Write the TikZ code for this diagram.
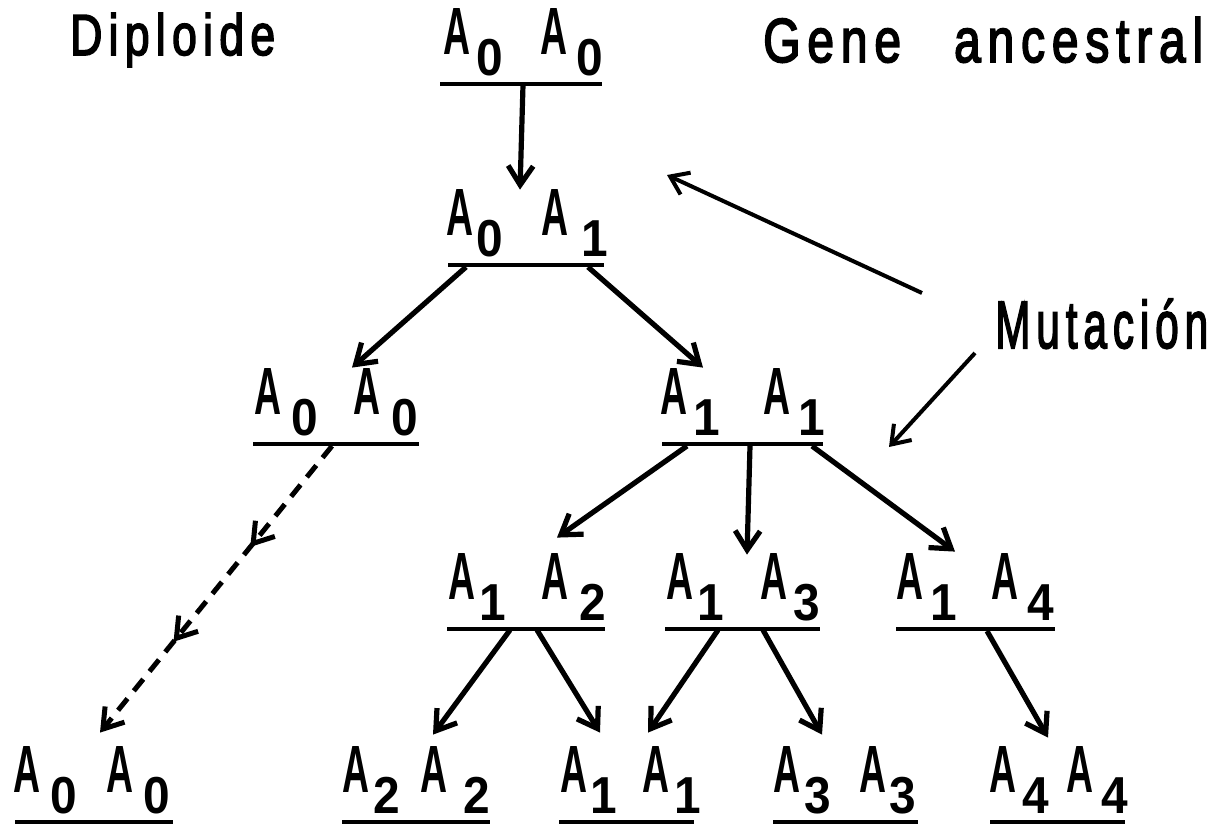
\documentclass[tikz,border=0pt]{standalone}
\usepackage{fontspec}
\setmainfont{Liberation Sans}
\newfontfamily\lett{Liberation Sans}
\newfontfamily\lettsp{Liberation Sans}[FakeBold=3,LetterSpace=14]
\usepackage{graphicx}
\usetikzlibrary{arrows.meta,decorations.markings}

% one capital A of the lettering, narrowed (its box height is smashed)
\newcommand\Ag{\smash{\resizebox{27pt}{46pt}{A}}}
% one index digit, slightly narrowed
\newcommand\Dg[1]{\scalebox{0.92}[1]{#1}}
% genotype label: #1 bar length, #2..#5 centres of A, digit, A, digit; #6,#7 the digits
\newcommand\gen[7]{\makebox[#1pt][l]{%
  \rlap{\hspace*{#2pt}\makebox[0pt]{\Ag}}%
  \rlap{\hspace*{#3pt}\makebox[0pt]{\raisebox{-21pt}{\Dg{#6}}}}%
  \rlap{\hspace*{#4pt}\makebox[0pt]{\Ag}}%
  \rlap{\hspace*{#5pt}\makebox[0pt]{\raisebox{-21pt}{\Dg{#7}}}}%
  \rule[-29pt]{0pt}{68pt}}}

\tikzset{
  geno/.style={inner sep=0pt, anchor=south west, font=\lett\bfseries\fontsize{52}{60}\selectfont},
  title/.style={inner sep=0pt, anchor=base west, font=\lettsp\fontsize{52}{60}\selectfont},
  bar/.style={line width=4.2pt},
  tree/.style={line width=5.2pt, -{Straight Barb[length=19pt,width=25pt]}},
  mutarrow/.style={line width=4pt, -{Straight Barb[length=17pt,width=24pt]}},
  dasharrow/.style={line width=5pt, dash pattern=on 15pt off 10pt,
    -{Straight Barb[length=19pt,width=25pt]},
    decoration={markings,
      mark=at position 0.352 with {\arrow{Straight Barb[length=19pt,width=25pt]}},
      mark=at position 0.683 with {\arrow{Straight Barb[length=19pt,width=25pt]}}},
    postaction={decorate}}
}

\begin{document}
\begin{tikzpicture}[x=1pt,y=-1pt]
\useasboundingbox (0,0) rectangle (1219,825);

% headings
\node[title] (dip) at (70,55) {\resizebox{205pt}{42pt}{Diploide}};
\node[title] (gene) at (763,62) {\resizebox{440pt}{45pt}{Gene\hspace{1.1em}ancestral}};
\node[title] (mut) at (995,348) {\resizebox{213pt}{46pt}{\smash{Mutación}\vphantom{M}}};

% genotypes
\node[geno] (top) at (440,84)  {\gen{162}{16.5}{50}{114}{149.5}{0}{0}};
\node[geno] (r2)  at (448,265) {\gen{156}{11.5}{42}{107}{146.5}{0}{1}};
\node[geno] (r3l) at (253,444) {\gen{166}{14.5}{51.5}{113.5}{151.5}{0}{0}};
\node[geno] (r3r) at (662,444) {\gen{161}{11.5}{44.5}{114.5}{149.5}{1}{1}};
\node[geno] (r4a) at (447,629) {\gen{158}{14.5}{45.5}{108}{145.5}{1}{2}};
\node[geno] (r4b) at (665,629) {\gen{155}{15}{45.5}{108.5}{141.5}{1}{3}};
\node[geno] (r4c) at (896,629) {\gen{159}{13.5}{47.5}{109}{144.5}{1}{4}};
\node[geno] (r5a) at (15,822)  {\gen{158}{11.5}{48.5}{105}{141.5}{0}{0}};
\node[geno] (r5b) at (342,822) {\gen{148}{14}{44.5}{91.5}{134.5}{2}{2}};
\node[geno] (r5c) at (559,822) {\gen{135}{14.5}{45}{96.5}{128.5}{1}{1}};
\node[geno] (r5d) at (773,822) {\gen{145}{13.5}{45}{99.5}{129.5}{3}{3}};
\node[geno] (r5e) at (990,822) {\gen{135}{12.5}{45.5}{90}{124.5}{4}{4}};

% bars under the genotypes
\foreach \n in {top,r2,r3l,r3r,r4a,r4b,r4c,r5a,r5b,r5c,r5d,r5e}
  \draw[bar] (\n.south west) -- (\n.south east);

% descent
\draw[tree] ([xshift=83pt,yshift=-1pt]top.south west) -- ([xshift=72pt,yshift=7pt]r2.north west);
\draw[tree] ([xshift=18pt,yshift=-2pt]r2.south west) -- ([xshift=99pt,yshift=8pt]r3l.north west);
\draw[tree] ([xshift=140pt,yshift=-2pt]r2.south west) -- ([xshift=41pt,yshift=8pt]r3r.north west);
\draw[tree] ([xshift=25pt,yshift=-2pt]r3r.south west) -- ([xshift=110pt,yshift=23pt]r4a.north west);
\draw[tree] ([xshift=88pt,yshift=-2pt]r3r.south west) -- ([xshift=82pt,yshift=6pt]r4b.north west);
\draw[tree] ([xshift=150pt,yshift=-2pt]r3r.south west) -- ([xshift=59pt,yshift=9pt]r4c.north west);
\draw[tree] ([xshift=63pt,yshift=-1pt]r4a.south west) -- ([xshift=91pt,yshift=19pt]r5b.north west);
\draw[tree] ([xshift=90pt,yshift=-1pt]r4a.south west) -- ([xshift=41pt,yshift=21pt]r5c.north west);
\draw[tree] ([xshift=53pt,yshift=-1pt]r4b.south west) -- ([xshift=89pt,yshift=21pt]r5c.north west);
\draw[tree] ([xshift=98pt,yshift=-1pt]r4b.south west) -- ([xshift=49pt,yshift=19pt]r5d.north west);
\draw[tree] ([xshift=91pt,yshift=-2pt]r4c.south west) -- ([xshift=58pt,yshift=16pt]r5e.north west);
\draw[dasharrow] ([xshift=79pt,yshift=-2pt]r3l.south west) -- ([xshift=85pt,yshift=21pt]r5a.north west);

% mutation pointers
\coordinate (mutA) at (667,175);
\coordinate (mutB) at (889,447);
\draw[mutarrow] ([xshift=-73pt,yshift=55pt]mut.base west) -- (mutA);
\draw[mutarrow] ([xshift=-20pt,yshift=-5pt]mut.base west) -- (mutB);
\end{tikzpicture}
\end{document}
